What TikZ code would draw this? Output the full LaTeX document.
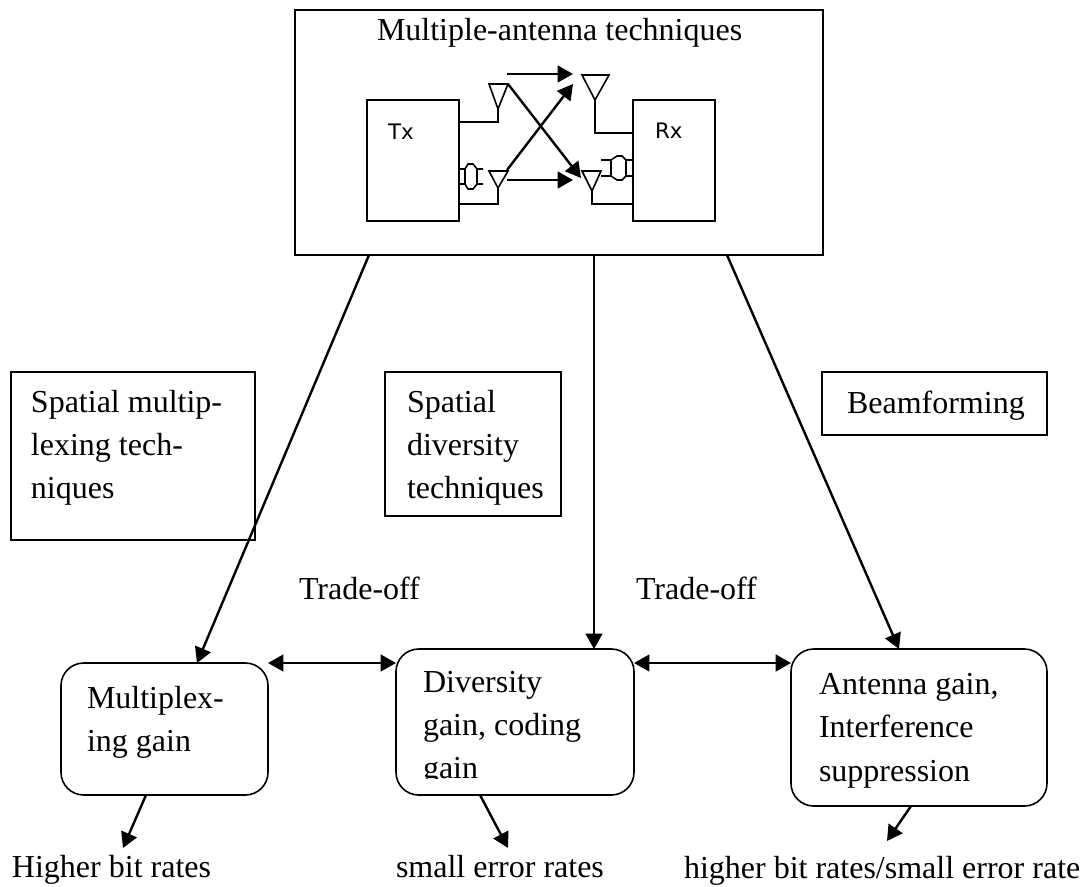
\documentclass[tikz,border=0pt]{standalone}
\usepackage{fontspec}
\setmainfont{Liberation Serif}
\newfontfamily\sansf{DejaVu Sans}
\usetikzlibrary{arrows.meta}
\tikzset{x=0.75pt,y=-0.75pt,
 pxbox/.style 2 args={draw,line width=1.2pt,inner sep=0pt,outer sep=0pt,anchor=north west,minimum width=#1*0.75pt,minimum height=#2*0.75pt},
 roundbox/.style 2 args={pxbox={#1}{#2},rounded corners=17pt},
 wire/.style={draw,line width=1.2pt},
 ant/.style={draw,line width=1.2pt},
 coupler/.style={draw,line width=1.2pt},
 arr/.style={draw,line width=1.8pt,-{Triangle[length=11.5pt,width=12.5pt]}},
 biarr/.style={draw,line width=1.8pt,{Triangle[length=11.5pt,width=12.5pt]}-{Triangle[length=11.5pt,width=12.5pt]}},
 lab/.style={font=\fontsize{24}{32}\selectfont,anchor=base west,inner sep=0pt,outer sep=0pt,align=left},
 small/.style={font=\sansf\fontsize{16}{19}\selectfont,anchor=base west,inner sep=0pt,outer sep=0pt}}
\begin{document}
\begin{tikzpicture}
\useasboundingbox (0,0) rectangle (1085,886);
\fill[white] (0,0) rectangle (1085,886);
% top box
\node[pxbox={528}{245}] (top) at (295,10) {};
\node[lab] (title) at (377,40) {Multiple-antenna techniques};
\node[pxbox={92}{121}] (tx) at (367,100) {};
\node[pxbox={82}{121}] (rx) at (633,100) {};
\node[small] (txl) at (388,139) {Tx};
\node[small] (rxl) at (655,138) {Rx};
\coordinate (a1) at (498,109); \coordinate (a2) at (498,188);
\coordinate (r1) at (595,100); \coordinate (r2) at (592,191);
\draw[ant] (489,84) -- (508,84) -- (a1) -- cycle;
\draw[ant] (489,171) -- (508,171) -- (a2) -- cycle;
\draw[ant] (582,75) -- (609,75) -- (r1) -- cycle;
\draw[ant] (582,171) -- (601,171) -- (r2) -- cycle;
\draw[wire] (a1) -- (498,122) -- (tx.east |- 0,122);
\draw[wire] (a2) -- (498,204) -- (tx.east |- 0,204);
\draw[wire] (r1) -- (595,133) -- (rx.west |- 0,133);
\draw[wire] (r2) -- (592,204) -- (rx.west |- 0,204);
\coordinate (s1) at (507,74); \coordinate (e1) at (573,74);
\coordinate (s2) at (507,180); \coordinate (e2) at (573,180);
\coordinate (s3) at (508,84); \coordinate (e3) at (581,178);
\coordinate (s4) at (507,170); \coordinate (e4) at (573,84);
\draw[arr] (s1) -- (e1);
\draw[arr] (s2) -- (e2);
\draw[arr] (s3) -- (e3);
\draw[arr] (s4) -- (e4);
% couplers
\draw[coupler] (459,169) -- (465,169) -- (468,164) -- (473,164) -- (477,169) -- (483,169);
\draw[coupler] (459,184) -- (465,184) -- (468,189) -- (473,189) -- (477,184) -- (483,184);
\draw[coupler] (465,169) -- (465,184) (477,169) -- (477,184);
\draw[coupler] (601,160) -- (611,160) -- (617,156) -- (622,156) -- (626,160) -- (633,160);
\draw[coupler] (601,176) -- (611,176) -- (617,180) -- (622,180) -- (626,176) -- (633,176);
\draw[coupler] (611,160) -- (611,176) (626,160) -- (626,176);
% technique boxes
\node[pxbox={244}{168}] (smux) at (11,372) {};
\node[lab] (smuxt) at (31,498) {Spatial multip-\\lexing tech-\\niques};
\node[pxbox={176}{144}] (sdiv) at (385,372) {};
\node[lab] (sdivt) at (407,498) {Spatial\\diversity\\techniques};
\node[pxbox={225}{63}] (bf) at (822,372) {};
\node[lab] (bft) at (847,413) {Beamforming};
\node[lab] (tr1) at (299,599) {Trade-off};
\node[lab] (tr2) at (636,599) {Trade-off};
% gain boxes
\node[roundbox={207}{132}] (mux) at (61,663) {};
\node[lab] (muxt) at (87,751) {Multiplex-\\ing gain};
\node[roundbox={238}{146}] (div) at (396,649) {};
\begin{scope}
\clip (396,649) rectangle (634,778);
\node[lab] (divt) at (423,778) {Diversity\\gain, coding\\gain};
\end{scope}
\node[roundbox={256}{157}] (antg) at (791,649) {};
\node[lab] (antt) at (819,781) {Antenna gain,\\Interference\\[1pt]suppression};
% results
\node[lab] (r1t) at (12,877) {Higher bit rates};
\node[lab] (r2t) at (396,877) {small error rates};
\node[lab] (r3t) at (684,878) {higher bit rates/small error rate};
% connectors
\draw[arr] (top.south -| 369,0) -- (mux.north -| 197,0);
\draw[arr] (top.south -| 594,0) -- (div.north -| 594,0);
\draw[arr] (top.south -| 727,0) -- (antg.north -| 899,0);
\draw[biarr] (mux.east |- 0,663) -- (div.west |- 0,663);
\draw[biarr] (div.east |- 0,663) -- (antg.west |- 0,663);
\coordinate (o1) at (123,848); \coordinate (o2) at (508,848); \coordinate (o3) at (887,841);
\draw[arr] (mux.south -| 146,0) -- (o1);
\draw[arr] (div.south -| 480,0) -- (o2);
\draw[arr] (antg.south -| 911,0) -- (o3);
\end{tikzpicture}
\end{document}
